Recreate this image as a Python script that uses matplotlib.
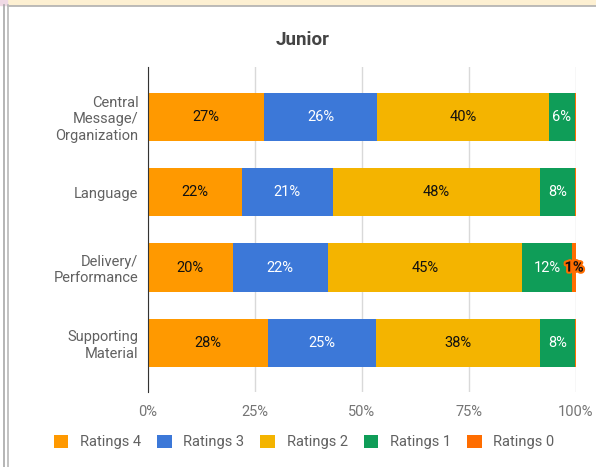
import matplotlib
matplotlib.use("Agg")
import matplotlib.pyplot as plt
import matplotlib.patheffects as pe
from matplotlib.lines import Line2D
from matplotlib.patches import Rectangle
import numpy as np

categories = ["Central\nMessage/\nOrganization", "Language",
              "Delivery/\nPerformance", "Supporting\nMaterial"]
series = ["Ratings 4", "Ratings 3", "Ratings 2", "Ratings 1", "Ratings 0"]
ratings_4 = [27.1, 21.9, 19.8, 28.1]
ratings_3 = [26.4, 21.3, 22.2, 25.2]
ratings_2 = [40.1, 48.3, 45.4, 38.2]
ratings_1 = [6.1, 8.3, 11.7, 8.3]
ratings_0 = [0.3, 0.2, 0.9, 0.2]
x_ticks = [0, 25, 50, 75, 100]

colors = ["#ff9900", "#3c78d8", "#f4b400", "#0f9d58", "#ff6d00"]
text_colors = ["#111111", "#ffffff", "#111111", "#ffffff", "#111111"]

plt.rcParams["font.family"] = ["Roboto", "DejaVu Sans"]

fig = plt.figure(figsize=(5.96, 4.67), dpi=100)
W, H = 596, 467
ax = fig.add_axes([148 / W, 1 - 392 / H, (576 - 148) / W, (392 - 67) / H])

y = np.arange(len(categories))
left = np.zeros(len(categories))
for name, vals, c, tc in zip(series, [ratings_4, ratings_3, ratings_2, ratings_1, ratings_0],
                             colors, text_colors):
    vals = np.array(vals)
    ax.barh(y, vals, left=left, height=0.64, color=c, label=name, zorder=3)
    for yi, l, v in zip(y, left, vals):
        if round(v) < 1:
            continue
        t = ax.text(l + v / 2, yi, f"{v:.0f}%", ha="center", va="center",
                    fontsize=10.5, color=tc, zorder=4)
        if v < 3:
            t.set_fontweight("bold")
            t.set_path_effects([pe.withStroke(linewidth=3, foreground=c)])
    left += vals

ax.set_xlim(0, 100)
ax.set_ylim(3.65, -0.66)
ax.set_yticks(y)
ax.set_yticklabels(categories, fontsize=10.5, color="#616161", linespacing=1.2)
ax.set_xticks(x_ticks)
ax.set_xticklabels([f"{t}%" for t in x_ticks], fontsize=10.5, color="#757575")
ax.tick_params(length=0, pad=9)
ax.tick_params(axis="y", pad=7)
ax.xaxis.grid(True, color="#d9d9d9", linewidth=1, zorder=0)
for s in ["top", "right", "bottom"]:
    ax.spines[s].set_visible(False)
ax.spines["left"].set_color("#333333")
ax.spines["left"].set_zorder(5)

fig.text(303 / W, 1 - 40 / H, "Junior", ha="center", va="center",
         fontsize=13.5, fontweight="bold", color="#444444")

fig.legend(loc="center", bbox_to_anchor=(304 / W, 1 - 442 / H), ncol=5,
           frameon=False, fontsize=10.5, labelcolor="#616161",
           handlelength=1.0, handleheight=1.0, handletextpad=0.8,
           columnspacing=1.1)

# spreadsheet frame around the chart
fig.patches.append(Rectangle((8 / W, 1 - 5 / H), 1, 5 / H, transform=fig.transFigure,
                             color="#fdf0d2", zorder=0))
fig.patches.append(Rectangle((0, 1 - 5 / H), 7 / W, 5 / H, transform=fig.transFigure,
                             color="#efd9e4", zorder=0))
fig.lines.append(Line2D([8 / W, 1], [1 - 5.5 / H] * 2, transform=fig.transFigure,
                        color="#b0b0b0", linewidth=1.2))
fig.lines.append(Line2D([4 / W] * 2, [0, 1 - 5 / H], transform=fig.transFigure,
                        color="#a8a8a8", linewidth=1.2))
fig.lines.append(Line2D([8 / W] * 2, [0, 1 - 5 / H], transform=fig.transFigure,
                        color="#b8b8b8", linewidth=1.2))

fig.savefig("out.png", dpi=100)
